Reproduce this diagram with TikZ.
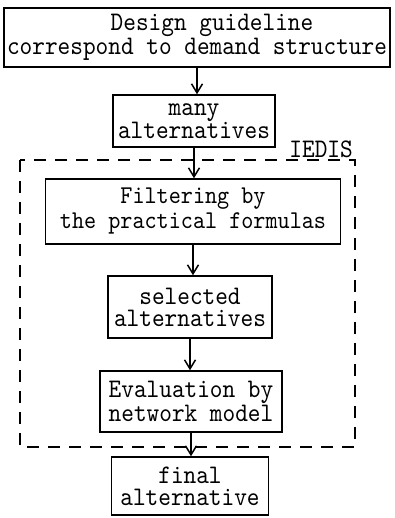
\documentclass[tikz,border=0pt]{standalone}
\usepackage{fontspec}
\newfontfamily\kastenschrift[FakeStretch=0.9]{lmmono10-regular.otf}
\usetikzlibrary{arrows.meta}

\begin{document}
\begin{tikzpicture}[x=1pt,y=-1pt,>={Straight Barb[length=9pt,width=11pt]},
		kasten/.style={draw,line width=1.5pt,inner sep=0pt,align=center,font=\kastenschrift\fontsize{26.8}{22}\selectfont},
		pfeil/.style={->,line width=1.5pt}]
		\useasboundingbox (0,0) rectangle (394,518);
		
		% Kaesten
		\node[kasten,minimum width=386pt,minimum height=59pt] (leitlinie) at (197,37.5) {\hspace*{30pt}Design guideline\\correspond to demand structure};
		\node[kasten,minimum width=162pt,minimum height=52pt] (viele) at (194,121) {many\\alternatives};
		\node[kasten,minimum width=295pt,minimum height=65pt,font=\kastenschrift\fontsize{25.6}{25}\selectfont] (filter) at (193,211.5) {Filtering by\\the practical formulas};
		\node[kasten,minimum width=164pt,minimum height=62pt] (auswahl) at (190,307) {selected\\alternatives};
		\node[kasten,minimum width=182pt,minimum height=61pt] (bewertung) at (191,401.5) {Evaluation by\\network model};
		\node[kasten,minimum width=157pt,minimum height=58pt] (ergebnis) at (190,486) {final\\alternative};
		
		% IEDIS
		\draw[line width=1.5pt,dash pattern=on 12pt off 9pt] (20,160) rectangle (355,447);
		\node[anchor=south east,inner sep=0pt,font=\kastenschrift\fontsize{26.8}{22}\selectfont] (iedis) at (353,158) {IEDIS};
		
		% Pfeile
		\draw[pfeil] (leitlinie.south) -- (leitlinie.south |- viele.north);
		\draw[pfeil] (viele.south) -- (viele.south |- filter.north);
		\draw[pfeil] (filter.south) -- (filter.south |- auswahl.north);
		\draw[pfeil] (auswahl.south) -- (auswahl.south |- bewertung.north);
		\draw[pfeil] (bewertung.south) -- (bewertung.south |- ergebnis.north);
	\end{tikzpicture}
\end{document}
